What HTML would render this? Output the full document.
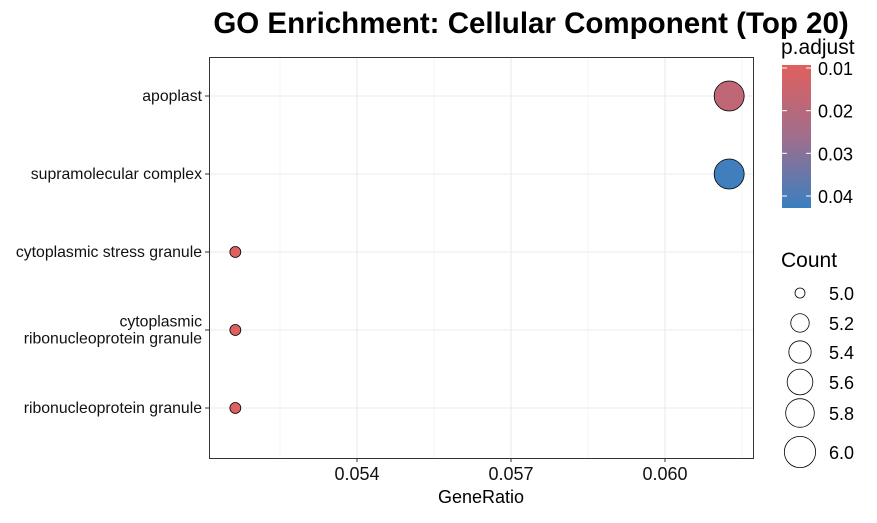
<!DOCTYPE html>
<html><head><meta charset="utf-8"><style>
body{margin:0;background:#fff;}
svg text{font-family:"Liberation Sans",Arial,sans-serif;}
</style></head><body>
<svg id="c" width="877" height="518" xmlns="http://www.w3.org/2000/svg">
<defs><linearGradient id="g" x1="0" y1="0" x2="0" y2="1">
<stop offset="0" stop-color="#e0605d"/><stop offset="0.5" stop-color="#a06e8c"/><stop offset="1" stop-color="#3a7fc0"/></linearGradient></defs>
<text x="531" y="33" text-anchor="middle" font-size="29.5" font-weight="bold">GO Enrichment: Cellular Component (Top 20)</text>
<g id="grid"></g>
<g id="pts"></g>
<rect x="209.5" y="57.5" width="544" height="401" fill="none" stroke="#333" stroke-width="1"/>
<g id="axes"></g>
<text x="481" y="503" text-anchor="middle" font-size="18">GeneRatio</text>
<text x="781" y="54" font-size="21">p.adjust</text>
<rect x="782" y="65" width="29" height="143" fill="url(#g)"/>
<g id="cleg"></g>
<text x="781" y="267" font-size="21">Count</text>
<g id="sleg"></g>
</svg>
<script>
const categories=["apoplast","supramolecular complex","cytoplasmic stress granule","cytoplasmic\nribonucleoprotein granule","ribonucleoprotein granule"];
const geneRatio=[0.06125,0.06125,0.05163,0.05163,0.05163];
const counts=[6,6,5,5,5];
const padj=[0.018,0.042,0.0105,0.0105,0.0105];
const xTicks=[0.054,0.057,0.060];
const cTicks=[0.01,0.02,0.03,0.04];
const sTicks=[5.0,5.2,5.4,5.6,5.8,6.0];
const NS="http://www.w3.org/2000/svg";
function X(v){return 357+(v-0.054)/0.003*154;}
function Y(i){return 96+i*78;}
function R(c){return Math.sqrt(30+195*(c-5));}
function LR(c){return Math.sqrt(25+200*(c-5)+20*(c>5?1:0));}
function CY(p){return 68+(p-0.01)/0.03*128;}
function col(p){let t=Math.max(0,Math.min(1,(p-0.0095)/0.0335));
 const a=[224,96,93],m=[160,110,140],b=[58,127,192];let r;
 if(t<0.5){const u=t*2;r=a.map((v,k)=>Math.round(v+(m[k]-v)*u));}else{const u=(t-0.5)*2;r=m.map((v,k)=>Math.round(v+(b[k]-v)*u));}
 return `rgb(${r})`;}
function mk(t,at,p){const e=document.createElementNS(NS,t);for(const k in at)e.setAttribute(k,at[k]);p.appendChild(e);return e;}
const grid=document.getElementById('grid'),pts=document.getElementById('pts'),axes=document.getElementById('axes');
for(let i=0;i<xTicks.length;i++){
 const x=X(xTicks[i]);
 const l=mk('line',{x1:x,x2:x,y1:57,y2:458,stroke:'#ebebeb','stroke-width':1.1},grid);
 
 
 const m=mk('line',{x1:x-77,x2:x-77,y1:57,y2:458,stroke:'#f2f2f2','stroke-width':0.7},grid);
 
 
 const tk=mk('line',{x1:x,x2:x,y1:458,y2:462,stroke:'#333'},axes);
 
 
 const t=mk('text',{x:x,y:480,'text-anchor':'middle','font-size':18,fill:'#111'},axes);t.textContent=xTicks[i].toFixed(3);
 
 
}
{const x=X(xTicks[xTicks.length-1])+77;const m=mk('line',{x1:x,x2:x,y1:57,y2:458,stroke:'#f2f2f2','stroke-width':0.7},grid);
 
 }
categories.forEach((c,i)=>{
 const y=Y(i);
 const g=mk('line',{x1:209,x2:753,y1:y,y2:y,stroke:'#ebebeb','stroke-width':1.1},grid);
 
 
 const tk=mk('line',{x1:205,x2:209,y1:y,y2:y,stroke:'#333'},axes);
 
 
 const lines=c.split('\n');
 const t=mk('text',{x:202,'text-anchor':'end','font-size':15.8,fill:'#111'},axes);
 
 
 lines.forEach((s,k)=>{const ts=mk('tspan',{x:202,y:y+5+(k-(lines.length-1)/2)*17},t);ts.textContent=s;});
 const p=mk('circle',{cx:X(geneRatio[i]),cy:y,r:R(counts[i]),fill:col(padj[i]),stroke:'#000','stroke-width':0.8},pts);
 
 
});
const cleg=document.getElementById('cleg');
cTicks.forEach(v=>{const y=CY(v);
 mk('line',{x1:782,x2:787,y1:y,y2:y,stroke:'#fff'},cleg);mk('line',{x1:806,x2:811,y1:y,y2:y,stroke:'#fff'},cleg);
 const t=mk('text',{x:818,y:y+7,'font-size':18},cleg);t.textContent=v.toFixed(2);
 
 });
const sleg=document.getElementById('sleg');const sy=[293,323,352,382,413,452];
sTicks.forEach((v,i)=>{
 const c=mk('circle',{cx:800,cy:sy[i],r:LR(v),fill:'none',stroke:'#000','stroke-width':0.8},sleg);
 
 
 const t=mk('text',{x:829,y:sy[i]+7,'font-size':18},sleg);t.textContent=v.toFixed(1);
 
 });
</script>
</body></html>
